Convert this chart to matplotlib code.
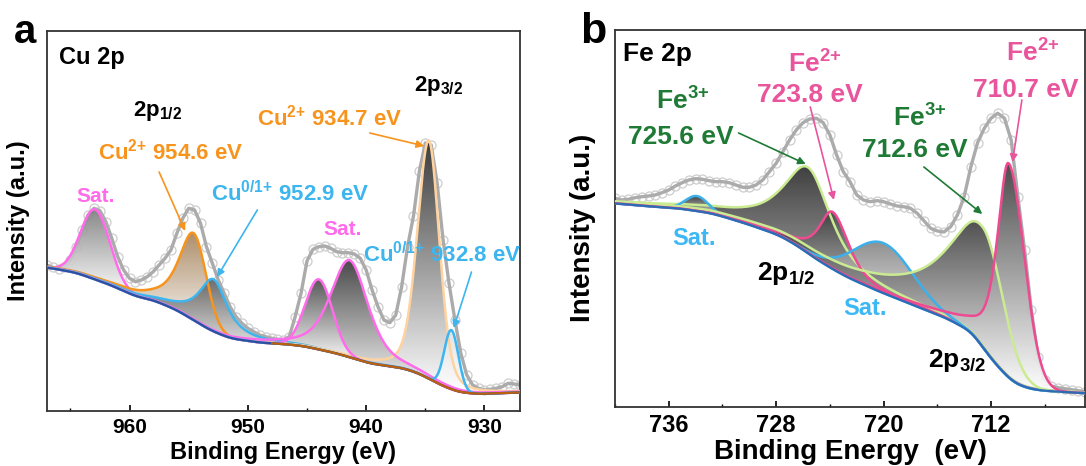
import numpy as np
import matplotlib.pyplot as plt
from matplotlib.colors import LinearSegmentedColormap
from matplotlib.ticker import MultipleLocator

plt.rcParams['font.family'] = ['Liberation Sans', 'DejaVu Sans']
plt.rcParams['font.weight'] = 'bold'
plt.rcParams['axes.labelweight'] = 'bold'
plt.rcParams['mathtext.fontset'] = 'custom'
plt.rcParams['mathtext.rm'] = 'Liberation Sans:bold'
plt.rcParams['mathtext.it'] = 'Liberation Sans:bold'
plt.rcParams['mathtext.bf'] = 'Liberation Sans:bold'

# ---------------- Cu 2p ----------------
cu_energy = np.arange(967.0, 926.75, -0.5)
cu_counts = [146, 143.7, 141.7, 143.7, 151, 164.3, 181, 196, 202.7, 200.3,
             189.3, 172.7, 154.3, 141, 132.7, 129.3, 131, 134.3, 139.3, 146,
             152.7, 161, 177.7, 192.7, 202.7, 201, 187.7, 164.3, 147.7, 131,
             117.7, 104.3, 94.3, 87.7, 82.7, 79.3, 76, 74.3, 72.7, 71.7,
             71, 74.3, 94.3, 118, 150, 161.7, 164.3, 165, 162.7, 159.3,
             158.3, 158.3, 157, 152.7, 141, 121, 104.3, 91, 88.3, 96,
             124.3, 164.3, 195, 240, 268, 266, 227.7, 171, 127.7, 91,
             57.7, 36, 26, 22.7, 21, 21.7, 22.7, 24.3, 27.7, 27,
             26]

cu_bg_energy = [967, 964.5, 961.6, 959.4, 958.0, 956.0, 954.6, 953.2, 951.5, 948.9,
                946.9, 945.3, 942.5, 939.7, 936.8, 935.4, 934.0, 932.3, 930.6, 927]
cu_bg_counts = [143.7, 138.3, 126, 114.3, 111, 101, 91, 81, 72.7, 68.3,
                67, 65, 57.7, 47.7, 42.7, 37, 27.7, 19.3, 17, 18.7]

# fitted components: centre, height, hwhm (high BE side), hwhm (low BE side),
# lorentzian fraction (high BE side), lorentzian fraction (low BE side)
cu_centers = [962.9, 954.6, 952.9, 944.0, 941.4, 934.7, 932.8]
cu_heights = [70, 87, 52, 70, 97, 238, 59]
cu_hw_hi = [1.45, 1.5, 1.5, 1.35, 1.9, 1.15, 0.7]
cu_hw_lo = [1.45, 1.25, 1.4, 1.35, 1.85, 1.05, 0.7]
cu_eta_hi = [0.0, 0.8, 0.9, 0.0, 0.5, 0.3, 0.0]
cu_eta_lo = [0.0, 0.0, 0.9, 0.0, 0.5, 0.3, 0.0]

# ---------------- Fe 2p ----------------
fe_energy = np.arange(740.0, 704.75, -0.5)
fe_counts = [208.4, 206.7, 207.4, 209, 210, 210.7, 211.7, 214, 216.7, 220.7,
             224, 226.7, 228, 227.4, 226, 225, 225, 224, 221.7, 219.4,
             219.4, 221.7, 226.7, 235, 243.4, 255, 266.7, 276.7, 284, 287.7,
             288.4, 284, 271.7, 251.7, 235, 225, 211.7, 206.7, 205, 206,
             205, 202.7, 200.7, 200, 198.4, 193.4, 186, 178.4, 175.7, 174.7,
             180, 191.7, 210, 240, 264, 278.4, 288.4, 293.4, 288.4, 266.7,
             210, 156.7, 96.7, 50, 26.7, 20.7, 19, 18, 17, 16,
             15]

fe_bg_energy = [740, 737.8, 735.3, 732.8, 730.3, 727.8, 726.3, 725.3, 724.1, 722.8,
                720.3, 717.8, 715.3, 713.3, 712.8, 711.5, 710.3, 709.0, 707.8, 705]
fe_bg_counts = [203.4, 200.7, 198.4, 193.4, 183.4, 171.7, 160, 150, 140, 130,
                115, 101.7, 88.4, 74, 62, 40, 23.4, 17.4, 15.7, 13.4]

fe_centers = [733.9, 725.6, 723.8, 720.0, 712.6, 710.7]
fe_heights = [15, 86, 57, 50, 120, 214]
fe_hw_hi = [1.0, 2.3, 1.2, 2.6, 3.2, 1.0]
fe_hw_lo = [1.0, 2.0, 1.4, 2.6, 1.75, 1.4]
fe_eta_hi = [0.0, 1.0, 0.8, 0.0, 1.0, 0.7]
fe_eta_lo = [0.0, 0.8, 0.5, 0.0, 0.0, 0.0]


def peak(e, c, h, wh, wl, eh, el):
    w = np.where(e > c, wh, wl)
    eta = np.where(e > c, eh, el)
    x = (e - c) / w
    return h * (eta / (1 + x ** 2) + (1 - eta) * np.exp(-np.log(2) * x ** 2))


def smooth_bg(e, xp, fp, sigma=0.5):
    raw = np.interp(e, xp[::-1], fp[::-1])
    step = abs(e[1] - e[0])
    k = np.arange(-int(3 * sigma / step), int(3 * sigma / step) + 1) * step
    kern = np.exp(-0.5 * (k / sigma) ** 2)
    kern /= kern.sum()
    pad = len(k) // 2
    padded = np.concatenate([np.full(pad, raw[0]), raw, np.full(pad, raw[-1])])
    return np.convolve(padded, kern, mode='valid')


def grad_fill(ax, e, base, top, color, z):
    poly = ax.fill_between(e, base, top, facecolor='none', edgecolor='none')
    mask = (top - base) > 0.5
    ymin, ymax = base[mask].min(), top.max()
    cmap = LinearSegmentedColormap.from_list('g', ['white', color])
    im = ax.imshow(np.linspace(0, 1, 256).reshape(-1, 1), origin='lower',
                   extent=[e.min(), e.max(), ymin, ymax], aspect='auto',
                   cmap=cmap, zorder=z, alpha=0.92)
    im.set_clip_path(poly.get_paths()[0], transform=ax.transData)


def style_axis(ax, xlim, ylim, major, minor, fs_tick):
    ax.set_xlim(*xlim)
    ax.set_ylim(*ylim)
    ax.set_yticks([])
    ax.xaxis.set_major_locator(MultipleLocator(major))
    ax.xaxis.set_minor_locator(MultipleLocator(minor))
    ax.tick_params(axis='x', which='major', direction='in', length=4, width=1.2,
                   labelsize=fs_tick, pad=5)
    ax.tick_params(axis='x', which='minor', direction='in', length=2.5, width=1)
    for lab in ax.get_xticklabels():
        lab.set_fontweight('bold')
    for s in ax.spines.values():
        s.set_linewidth(1.3)
        s.set_color('#333333')


def arrow(ax, tail, tip, color):
    ax.annotate('', xy=tip, xytext=tail, zorder=8,
                arrowprops=dict(arrowstyle='-|>', color=color, lw=1.2,
                                mutation_scale=11, shrinkA=0, shrinkB=0))


fig = plt.figure(figsize=(10.86, 4.66), dpi=100)

# ---------------- panel a ----------------
ax = fig.add_axes([0.043, 0.118, 0.4358, 0.8155])
e = np.linspace(967, 927, 801)
bg = smooth_bg(e, np.array(cu_bg_energy), np.array(cu_bg_counts), 0.5)

cu_line = ['#FF6BEA', '#F7941D', '#3DB5EE', '#FF6BEA', '#FF6BEA', '#FFD3A0', '#3DB5EE']
cu_fill = ['#7d7d7d', '#A8855E', '#4a4a4a', '#2e2e2e', '#3a3a3a', '#2a2a2a', '#c4c4c4']
cu_order = [0, 1, 2, 5, 4, 3, 6]

ax.plot(cu_energy, cu_counts, color='#ABABAB', lw=2.4, zorder=2)
ax.plot(cu_energy, cu_counts, 'o', ms=6.5, mfc='none', mec='#CDCDCD', mew=0.9, zorder=1)

for i in cu_order:
    p = peak(e, cu_centers[i], cu_heights[i], cu_hw_hi[i], cu_hw_lo[i],
             cu_eta_hi[i], cu_eta_lo[i])
    grad_fill(ax, e, bg, bg + p, cu_fill[i], 3)
for i in cu_order:
    p = peak(e, cu_centers[i], cu_heights[i], cu_hw_hi[i], cu_hw_lo[i],
             cu_eta_hi[i], cu_eta_lo[i])
    ax.plot(e, bg + p, color=cu_line[i], lw=1.8, zorder=4)
ax.plot(e, bg, color='#2E4F9E', lw=1.6, zorder=5)
ax.plot(e[e < 948], bg[e < 948], color='#B9610C', lw=1.6, zorder=5)

style_axis(ax, (967, 927), (0, 380), 10, 5, 15)
ax.set_xlabel('Binding Energy (eV)', fontsize=17, labelpad=3)
ax.set_ylabel('Intensity (a.u.)', fontsize=17)
ax.yaxis.set_label_coords(-0.035, 0.5)

orange = '#F7941D'
sky = '#3DB5EE'
magenta = '#FF6BEA'
ax.text(0.026, 0.913, 'Cu 2p', transform=ax.transAxes, fontsize=17)
ax.text(957.6, 300, r'2p$_{1/2}$', fontsize=16, ha='center', va='center')
ax.text(933.9, 325, r'2p$_{3/2}$', fontsize=16, ha='center', va='center')
ax.text(943.1, 293, r'Cu$^{2{+}}$ 934.7 eV', color=orange, fontsize=16,
        ha='center', va='center', zorder=9)
ax.text(956.5, 259, r'Cu$^{2{+}}$ 954.6 eV', color=orange, fontsize=16,
        ha='center', va='center', zorder=9)
ax.text(946.4, 217, r'Cu$^{0/1{+}}$ 952.9 eV', color=sky, fontsize=16,
        ha='center', va='center', zorder=9)
ax.text(933.6, 156, r'Cu$^{0/1{+}}$ 932.8 eV', color=sky, fontsize=16,
        ha='center', va='center', zorder=9)
ax.text(962.9, 214.5, 'Sat.', color=magenta, fontsize=15, ha='center', va='center', zorder=9)
ax.text(941.95, 181.5, 'Sat.', color=magenta, fontsize=15, ha='center', va='center', zorder=9)
arrow(ax, (939.7, 278), (935.1, 265), orange)
arrow(ax, (957.5, 239), (955.3, 180), orange)
arrow(ax, (949.2, 201), (952.6, 134), sky)
arrow(ax, (931.1, 139), (932.6, 83), sky)

# ---------------- panel b ----------------
bx = fig.add_axes([0.5663, 0.1273, 0.4328, 0.8084])
e2 = np.linspace(740, 705, 701)
bg2 = smooth_bg(e2, np.array(fe_bg_energy), np.array(fe_bg_counts), 0.5)

fe_line = ['#3DB0EA', '#CBEB93', '#EE4A92', '#3DB0EA', '#CBEB93', '#EE4A92']
fe_fill = ['#2f2f2f', '#2f2f2f', '#333333', '#555555', '#2c2c2c', '#3c3c3c']
fe_order = [1, 0, 2, 3, 4, 5]

bx.plot(fe_energy, fe_counts, color='#ABABAB', lw=2.4, zorder=2)
bx.plot(fe_energy, fe_counts, 'o', ms=6.5, mfc='none', mec='#CDCDCD', mew=0.9, zorder=1)

for i in fe_order:
    p = peak(e2, fe_centers[i], fe_heights[i], fe_hw_hi[i], fe_hw_lo[i],
             fe_eta_hi[i], fe_eta_lo[i])
    grad_fill(bx, e2, bg2, bg2 + p, fe_fill[i], 3)
for i in fe_order:
    p = peak(e2, fe_centers[i], fe_heights[i], fe_hw_hi[i], fe_hw_lo[i],
             fe_eta_hi[i], fe_eta_lo[i])
    bx.plot(e2, bg2 + p, color=fe_line[i], lw=1.8, zorder=4)
bx.plot(e2, bg2, color='#2B6CB5', lw=1.6, zorder=5)

style_axis(bx, (740, 705), (0, 376.7), 8, 4, 17)
bx.set_xlabel('Binding Energy  (eV)', fontsize=20, labelpad=2)
bx.set_ylabel('Intensity (a.u.)', fontsize=20)
bx.yaxis.set_label_coords(-0.04, 0.474)

green = '#1F7A35'
pink = '#E8559C'
sat_blue = '#3DB8F5'
bx.text(0.016, 0.918, 'Fe 2p', transform=bx.transAxes, fontsize=19)
bx.text(735.0, 305.7, r'Fe$^{3{+}}$', color=green, fontsize=19, ha='center', va='center', zorder=9)
bx.text(735.1, 269.7, '725.6 eV', color=green, fontsize=19, ha='center', va='center', zorder=9)
bx.text(725.1, 342.7, r'Fe$^{2{+}}$', color=pink, fontsize=19, ha='center', va='center', zorder=9)
bx.text(725.5, 311.7, '723.8 eV', color=pink, fontsize=19, ha='center', va='center', zorder=9)
bx.text(717.3, 288.7, r'Fe$^{3{+}}$', color=green, fontsize=19, ha='center', va='center', zorder=9)
bx.text(717.65, 256.7, '712.6 eV', color=green, fontsize=19, ha='center', va='center', zorder=9)
bx.text(708.9, 353.7, r'Fe$^{2{+}}$', color=pink, fontsize=19, ha='center', va='center', zorder=9)
bx.text(709.4, 316.7, '710.7 eV', color=pink, fontsize=19, ha='center', va='center', zorder=9)
bx.text(734.1, 168.2, 'Sat.', color=sat_blue, fontsize=17, ha='center', va='center', zorder=9)
bx.text(721.4, 98.2, 'Sat.', color=sat_blue, fontsize=17, ha='center', va='center', zorder=9)
bx.text(727.3, 133.2, r'2p$_{1/2}$', fontsize=19, ha='center', va='center', zorder=9)
bx.text(714.5, 46.2, r'2p$_{3/2}$', fontsize=19, ha='center', va='center', zorder=9)
arrow(bx, (730.8, 273.7), (725.8, 242.7), green)
arrow(bx, (725.46, 299.7), (723.7, 206.7), pink)
arrow(bx, (717.0, 239.7), (712.65, 192.7), green)
arrow(bx, (709.7, 306.7), (710.4, 244.7), pink)

fig.text(14 / 1086, 1 - 43 / 466, 'a', fontsize=29)
fig.text(580 / 1086, 1 - 43 / 466, 'b', fontsize=31)

fig.savefig('out.png', dpi=100)
